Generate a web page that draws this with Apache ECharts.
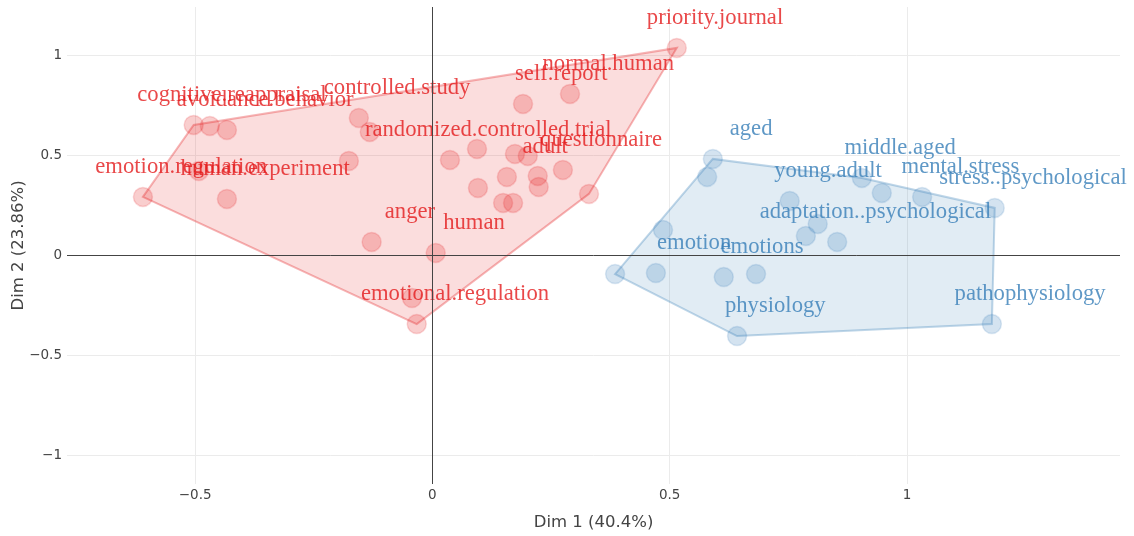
<!DOCTYPE html>
<html><head><meta charset="utf-8">
<script src="https://cdn.jsdelivr.net/npm/echarts@6/dist/echarts.min.js"></script>
<style>html,body{margin:0;padding:0;background:#fff}#c{width:1134px;height:536px}</style>
</head><body><div id="c"></div>
<script>
// ---- data ----
const redLabels = ['priority.journal','normal.human','self.report','controlled.study','','cognitive.reappraisal','','avoidance.behavior','','','emotion.regulation','human.experiment','randomized.controlled.trial','','','','questionnaire','adult','','','','','','','anger','human','','emotional.regulation'];
const redX = [0.515,0.290,0.191,-0.155,-0.132,-0.503,-0.469,-0.433,-0.176,-0.492,-0.610,-0.433,0.037,0.094,0.174,0.201,0.275,0.157,0.222,0.224,0.096,0.149,0.170,0.330,-0.128,0.007,-0.043,-0.033];
const redY = [1.038,0.808,0.758,0.688,0.618,0.653,0.648,0.628,0.473,0.423,0.293,0.283,0.478,0.533,0.508,0.498,0.428,0.393,0.398,0.343,0.338,0.263,0.263,0.308,0.068,0.013,-0.213,-0.343];

const blueLabels = ['aged','','young.adult','middle.aged','','mental.stress','stress..psychological','','','','adaptation..psychological','','emotion','emotions','','physiology','pathophysiology'];
const blueX = [0.591,0.579,0.753,0.905,0.947,1.032,1.185,0.486,0.812,0.787,0.853,0.385,0.471,0.614,0.682,0.642,1.179];
const blueY = [0.483,0.393,0.273,0.388,0.313,0.293,0.238,0.128,0.158,0.098,0.068,-0.093,-0.088,-0.108,-0.093,-0.403,-0.343];

const xTicks = [-0.5, 0, 0.5, 1];
const yTicks = [-1, -0.5, 0, 0.5, 1];
const xTitle = 'Dim 1 (40.4%)';
const yTitle = 'Dim 2 (23.86%)';

// ---- helpers ----
const RED = [228,26,28], BLUE = [55,126,184];
const SYM = 19, DX = 39, DY = -29;
const rgba = (c,a) => `rgba(${c[0]},${c[1]},${c[2]},${a})`;
function pts(xs, ys, labels){ return xs.map((x,i)=>[x, ys[i], labels[i]]); }
function hull(points){
  const p = points.map(q=>[q[0],q[1]]).sort((a,b)=>a[0]-b[0]||a[1]-b[1]);
  const cross=(o,a,b)=>(a[0]-o[0])*(b[1]-o[1])-(a[1]-o[1])*(b[0]-o[0]);
  const lo=[], up=[];
  for(const q of p){ while(lo.length>=2&&cross(lo[lo.length-2],lo[lo.length-1],q)<=0) lo.pop(); lo.push(q); }
  for(let i=p.length-1;i>=0;i--){ const q=p[i]; while(up.length>=2&&cross(up[up.length-2],up[up.length-1],q)<=0) up.pop(); up.push(q); }
  up.pop(); lo.pop();
  return lo.concat(up);
}
function hullSeries(points, c){
  const h = hull(points);
  return {
    type:'custom', z:2, silent:true, clip:false,
    data: h,
    renderItem:(params, api)=>{
      if(params.dataIndex!==0) return;
      return {type:'polygon', shape:{points:h.map(q=>api.coord(q))},
        style:{fill:rgba(c,0.15), stroke:rgba(c,0.32), lineWidth:2}};
    }
  };
}
function scatterSeries(points, c){
  return {
    type:'scatter', z:3, silent:true,
    data: points,
    symbolSize:SYM,
    itemStyle:{color:rgba(c,0.27), borderColor:rgba(c,0.2), borderWidth:1.5},
    label:{show:true, position:[SYM/2+DX, SYM/2+DY], align:'center', verticalAlign:'middle',
      formatter:p=>p.value[2],
      color:rgba(c,1), fontFamily:'Liberation Serif', fontSize:22.67},
    labelLayout:{hideOverlap:false}
  };
}
const fmt = v => (v<0?'\u2212':'') + Math.abs(v);
const tickFont = {color:'#444', fontFamily:'DejaVu Sans', fontSize:13.5};

const red = pts(redX, redY, redLabels), blue = pts(blueX, blueY, blueLabels);
const chart = echarts.init(document.getElementById('c'), null, {renderer:'canvas'});
chart.setOption({
  animation:false,
  backgroundColor:'#fff',
  grid:{left:67, right:14, top:7, bottom:52, containLabel:false, outerBoundsMode:'none'},
  xAxis:{type:'value', min:-0.770, max:1.449,
    axisLine:{show:false}, axisTick:{show:false, customValues:xTicks},
    axisLabel:Object.assign({customValues:xTicks, formatter:fmt, margin:4}, tickFont),
    splitLine:{show:true, lineStyle:{color:'#ebebeb', width:1}},
    name:xTitle, nameLocation:'middle', nameGap:30,
    nameTextStyle:{color:'#444', fontFamily:'DejaVu Sans', fontSize:16.5}},
  yAxis:{type:'value', min:-1.1425, max:1.2425,
    axisLine:{show:false}, axisTick:{show:false, customValues:yTicks},
    axisLabel:Object.assign({customValues:yTicks, formatter:fmt, margin:5}, tickFont),
    splitLine:{show:true, lineStyle:{color:'#ebebeb', width:1}},
    name:yTitle, nameLocation:'middle', nameGap:40, nameMoveOverlap:false,
    nameTextStyle:{color:'#444', fontFamily:'DejaVu Sans', fontSize:16.5}},
  series:[
    {type:'scatter', z:1, silent:true, data:[],
      markLine:{silent:true, symbol:'none', animation:false, label:{show:false},
        lineStyle:{color:'#444', width:1, type:'solid'},
        data:[{xAxis:0},{yAxis:0}]}},
    hullSeries(red, RED),
    hullSeries(blue, BLUE),
    scatterSeries(red, RED),
    scatterSeries(blue, BLUE)
  ]
});
</script>
</body></html>
